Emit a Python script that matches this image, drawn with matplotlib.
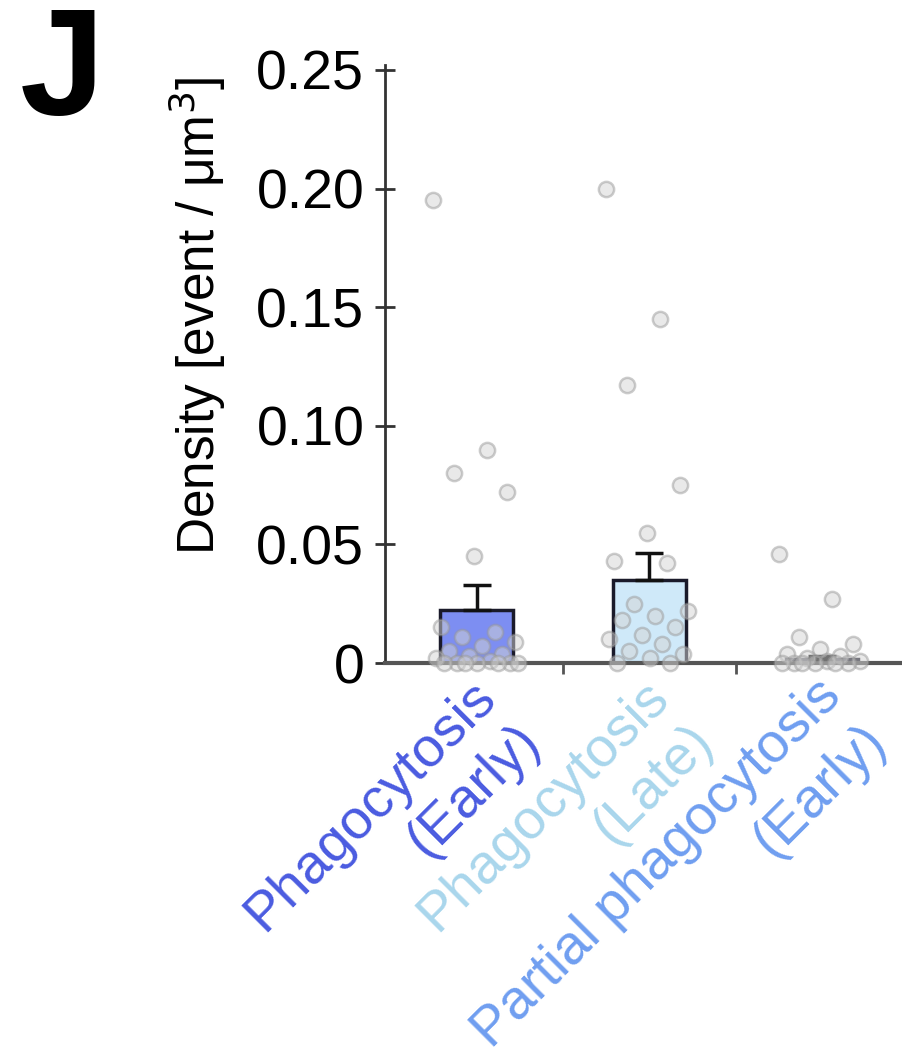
import numpy as np
import matplotlib
matplotlib.use('Agg')
import matplotlib.pyplot as plt
from matplotlib.transforms import offset_copy

# categories and colours
categories = ['Phagocytosis\n(Early)', 'Phagocytosis\n(Late)', 'Partial phagocytosis\n(Early)']
bar_colors = ['#7d8ef2', '#cfe9f9', '#8fb4f2']
label_colors = ['#4a5be0', '#a9d6ec', '#6f9ef0']

# bar heights (mean) and upper error (SEM)
means = [0.0225, 0.035, 0.0015]
errors = [0.0105, 0.0115, 0.0015]

# individual events per cell
early_pts = [0.195, 0.090, 0.080, 0.072, 0.045, 0.015, 0.013, 0.011, 0.009, 0.007,
             0.005, 0.004, 0.003, 0.002, 0.001, 0.0, 0.0, 0.0, 0.0, 0.0, 0.0, 0.0]
late_pts = [0.200, 0.145, 0.117, 0.075, 0.055, 0.043, 0.042, 0.025, 0.022, 0.020,
            0.018, 0.015, 0.012, 0.010, 0.008, 0.005, 0.004, 0.002, 0.0, 0.0]
partial_pts = [0.046, 0.027, 0.011, 0.008, 0.006, 0.004, 0.003, 0.002, 0.001, 0.001,
               0.0, 0.0, 0.0, 0.0, 0.0, 0.0]
points = [early_pts, late_pts, partial_pts]

yticks = [0, 0.05, 0.10, 0.15, 0.20, 0.25]
ytick_labels = ['0', '0.05', '0.10', '0.15', '0.20', '0.25']

plt.rcParams['font.family'] = ['Liberation Sans', 'DejaVu Sans']

fig = plt.figure(figsize=(9.02, 10.6), dpi=100)
ax = fig.add_axes([0.427, 0.3745, 0.58, 0.564])

x = np.arange(1, len(categories) + 1)
ax.bar(x, means, width=0.42, color=bar_colors, edgecolor='#1a1a2a', linewidth=2.5, zorder=2)
ax.errorbar(x, means, yerr=[np.zeros(len(means)), errors], fmt='none', ecolor='#111111',
            elinewidth=2.5, capsize=10, capthick=2.5, zorder=3)

# jittered strip of individual points (deterministic spread)
for i, vals in enumerate(points):
    n = len(vals)
    offs = (((np.arange(n) * 0.618) % 1.0) - 0.5) * 0.5
    ax.scatter(x[i] + offs, vals, s=120, facecolor='#d4d4d4', edgecolor='#9a9a9a',
               linewidth=1.8, alpha=0.5, zorder=4, clip_on=False)

ax.set_xlim(0.47, 3.47)
ax.set_ylim(0, 0.252)
ax.set_yticks(yticks)
ax.set_yticklabels(ytick_labels, fontsize=40)
ax.tick_params(axis='y', direction='inout', length=14, width=2, color='#333333', pad=8)

ax.set_xticks([1.5, 2.5, 3.5])
ax.set_xticklabels([])
ax.tick_params(axis='x', direction='out', length=8, width=2, color='#555555')

# rotated category labels, one text per line, right-aligned, stepped down-right
label_fs = 40
step = 1.12 * label_fs / np.sqrt(2)
for i, lab in enumerate(categories):
    for j, line in enumerate(lab.split('\n')):
        tr = offset_copy(ax.transData, fig=fig, x=j * step, y=-j * step, units='points')
        ax.text(x[i] - 0.04, -0.003, line, rotation=45, rotation_mode='anchor', ha='right',
                va='top', fontsize=label_fs, color=label_colors[i], transform=tr, clip_on=False)

ax.spines['top'].set_visible(False)
ax.spines['right'].set_visible(False)
ax.spines['left'].set_color('#333333')
ax.spines['left'].set_linewidth(2)
ax.spines['bottom'].set_color('#555555')
ax.spines['bottom'].set_linewidth(3)

ax.set_ylabel('Density [event / μm$^3$]', fontsize=37)
ax.yaxis.set_label_coords(-0.30, 0.58)

fig.text(0.022, 0.995, 'J', fontsize=110, fontweight='bold', ha='left', va='top')

fig.savefig('out.png', dpi=100)
